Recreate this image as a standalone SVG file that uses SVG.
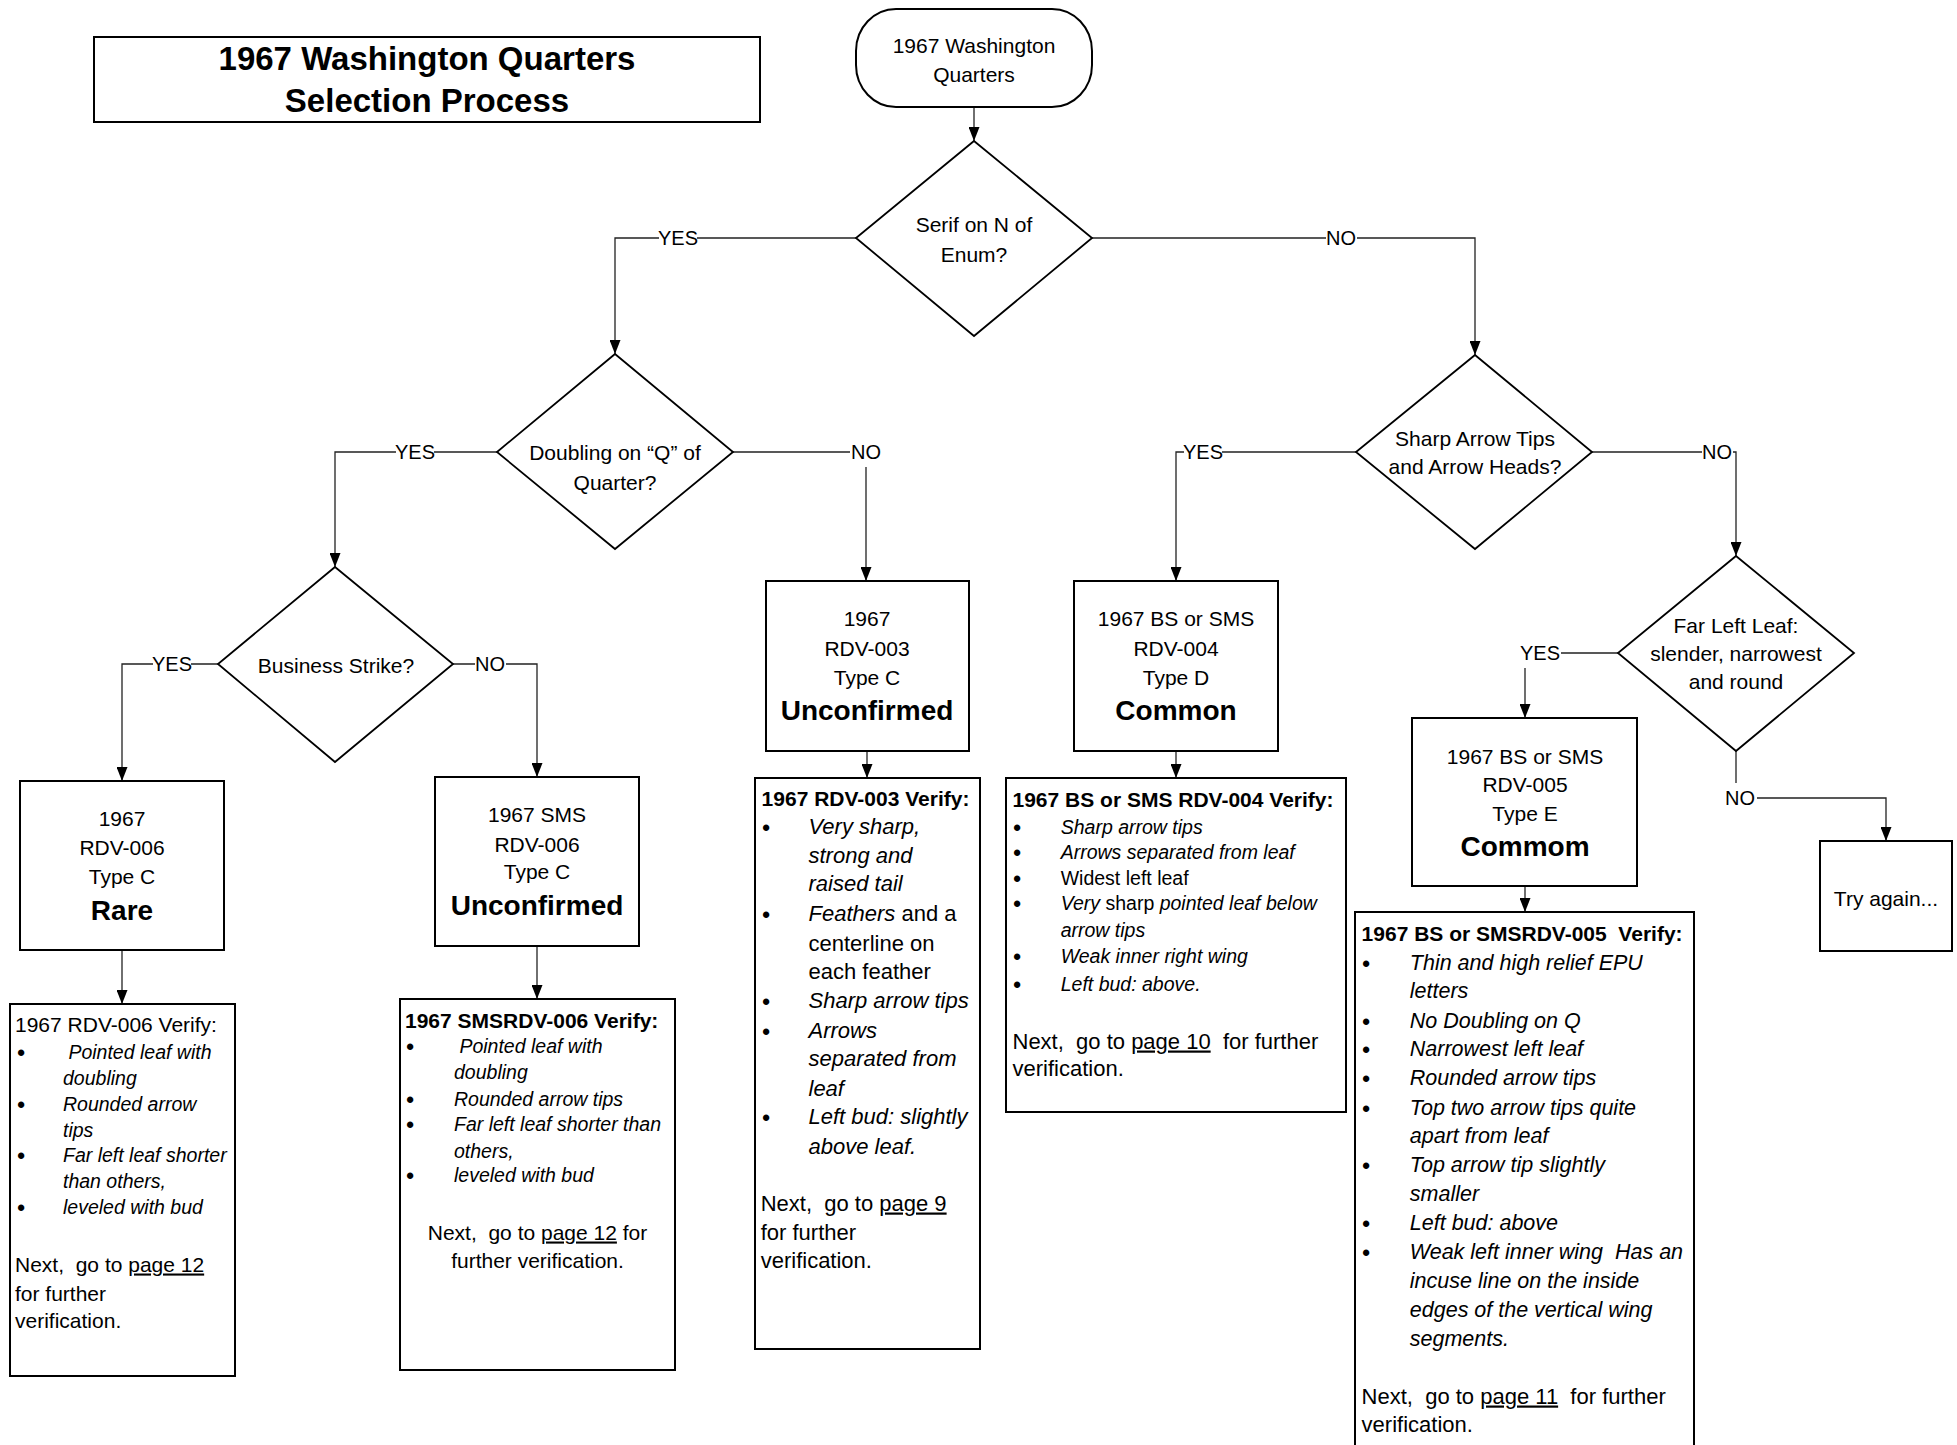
<svg xmlns="http://www.w3.org/2000/svg" width="1957" height="1445" viewBox="0 0 1957 1445">
<defs>
<style>
text{font-family:"Liberation Sans",Arial,sans-serif;font-size:21px;fill:#000;white-space:pre}
.c{text-anchor:middle}
.b{font-weight:bold}
.i{font-style:italic}
.big{font-size:28px;font-weight:bold}
.ttl{font-size:33px;font-weight:bold}
.lbl{font-size:20px}
.s195{font-size:19.5px}
.s22{font-size:22px}
.s215{font-size:21.5px}
.u{text-decoration:underline}
.box{fill:#fff;stroke:#000;stroke-width:2}
.dia{fill:#fff;stroke:#000;stroke-width:1.8}
.con{fill:none;stroke:#222;stroke-width:1.3;marker-end:url(#ah)}
.bg{fill:#fff}
.bul{font-size:22px;font-weight:bold;text-anchor:middle}
</style>
<marker id="ah" markerUnits="userSpaceOnUse" markerWidth="14" markerHeight="11" viewBox="0 0 14 11" refX="14" refY="5.5" orient="auto">
<path d="M0,0 L14,5.5 L0,11 z" fill="#000"/>
</marker>
</defs>
<rect width="1957" height="1445" fill="#fff"/>

<g id="connectors">
<path class="con" d="M974,107 V141"/>
<path class="con" d="M856,238 H615 V354"/>
<path class="con" d="M1092,238 H1475 V355"/>
<path class="con" d="M497,452 H335 V567"/>
<path class="con" d="M733,452 H866 V581"/>
<path class="con" d="M218,664 H122 V781"/>
<path class="con" d="M453,664 H537 V777"/>
<path class="con" d="M1356,452 H1176 V581"/>
<path class="con" d="M1592,452 H1736 V556"/>
<path class="con" d="M1618,653 H1525 V718"/>
<path class="con" d="M1736,751 V798 H1886 V841"/>
<path class="con" d="M122,950 V1004"/>
<path class="con" d="M537,946 V999"/>
<path class="con" d="M867,751 V778"/>
<path class="con" d="M1176,751 V778"/>
<path class="con" d="M1525,886 V912"/>
<rect class="bg" x="659" y="228" width="38" height="20"/>
<text class="lbl c" x="678" y="245">YES</text>
<rect class="bg" x="1326" y="228" width="31" height="20"/>
<text class="lbl c" x="1341" y="245">NO</text>
<rect class="bg" x="396" y="442" width="38" height="20"/>
<text class="lbl c" x="415" y="459">YES</text>
<rect class="bg" x="850" y="441" width="32" height="26"/>
<text class="lbl c" x="866" y="459">NO</text>
<rect class="bg" x="153" y="654" width="38" height="20"/>
<text class="lbl c" x="172" y="671">YES</text>
<rect class="bg" x="475" y="654" width="31" height="20"/>
<text class="lbl c" x="490" y="671">NO</text>
<rect class="bg" x="1184" y="442" width="38" height="20"/>
<text class="lbl c" x="1203" y="459">YES</text>
<rect class="bg" x="1702" y="442" width="31" height="20"/>
<text class="lbl c" x="1717" y="459">NO</text>
<rect class="bg" x="1519" y="641" width="42" height="27"/>
<text class="lbl c" x="1540" y="660">YES</text>
<rect class="bg" x="1723" y="783" width="34" height="28"/>
<text class="lbl c" x="1740" y="805">NO</text>
</g>

<g id="title">
<rect class="box" x="94" y="37" width="666" height="85"/>
<text class="ttl c" x="427" y="70">1967 Washington Quarters</text>
<text class="ttl c" x="427" y="112">Selection Process</text>
</g>

<g id="start">
<rect class="box" x="856" y="9" width="236" height="98" rx="40" ry="42"/>
<text class="c" x="974" y="53">1967 Washington</text>
<text class="c" x="974" y="81.5">Quarters</text>
</g>

<g id="q-serif">
<polygon class="dia" points="974,141 1092,238 974,336 856,238"/>
<text class="c" x="974" y="232">Serif on N of</text>
<text class="c" x="974" y="262">Enum?</text>
</g>

<g id="q-doubling">
<polygon class="dia" points="615,354 733,452 615,549 497,452"/>
<text class="c" x="615" y="460">Doubling on “Q” of</text>
<text class="c" x="615" y="490">Quarter?</text>
</g>

<g id="q-business">
<polygon class="dia" points="335,567 453,664 335,762 218,664"/>
<text class="c" x="336" y="673">Business Strike?</text>
</g>

<g id="q-sharp">
<polygon class="dia" points="1475,355 1592,452 1475,549 1356,452"/>
<text class="c" x="1475" y="446">Sharp Arrow Tips</text>
<text class="c" x="1475" y="474">and Arrow Heads?</text>
</g>

<g id="q-farleft">
<polygon class="dia" points="1736,556 1854,653 1736,751 1618,653"/>
<text class="c" x="1736" y="633">Far Left Leaf:</text>
<text class="c" x="1736" y="661">slender, narrowest</text>
<text class="c" x="1736" y="689">and round</text>
</g>

<g id="rdv006">
<rect class="box" x="20" y="781" width="204" height="169"/>
<text class="c" x="122" y="825.5">1967</text>
<text class="c" x="122" y="854.5">RDV-006</text>
<text class="c" x="122" y="883.5">Type C</text>
<text class="big c" x="122" y="920">Rare</text>
</g>

<g id="sms-rdv006">
<rect class="box" x="435" y="777" width="204" height="169"/>
<text class="c" x="537" y="821.5">1967 SMS</text>
<text class="c" x="537" y="851.5">RDV-006</text>
<text class="c" x="537" y="878.5">Type C</text>
<text class="big c" x="537" y="915">Unconfirmed</text>
</g>

<g id="rdv003">
<rect class="box" x="766" y="581" width="203" height="170"/>
<text class="c" x="867" y="625.5">1967</text>
<text class="c" x="867" y="655.5">RDV-003</text>
<text class="c" x="867" y="684.5">Type C</text>
<text class="big c" x="867" y="720">Unconfirmed</text>
</g>

<g id="rdv004">
<rect class="box" x="1074" y="581" width="204" height="170"/>
<text class="c" x="1176" y="625.5">1967 BS or SMS</text>
<text class="c" x="1176" y="655.5">RDV-004</text>
<text class="c" x="1176" y="684.5">Type D</text>
<text class="big c" x="1176" y="720">Common</text>
</g>

<g id="rdv005">
<rect class="box" x="1412" y="718" width="225" height="168"/>
<text class="c" x="1525" y="763.5">1967 BS or SMS</text>
<text class="c" x="1525" y="791.5">RDV-005</text>
<text class="c" x="1525" y="820.5">Type E</text>
<text class="big c" x="1525" y="856">Commom</text>
</g>

<g id="try-again">
<rect class="box" x="1820" y="841" width="132" height="110"/>
<text class="c" x="1886" y="905.5">Try again...</text>
</g>

<g id="verify-rdv006">
<rect class="box" x="10" y="1004" width="225" height="372"/>
<text x="15" y="1032">1967 RDV-006 Verify:</text>
<text class="bul" x="21" y="1060">•</text>
<text class="i s195" x="63" y="1059"> Pointed leaf with</text>
<text class="i s195" x="63" y="1084.6">doubling</text>
<text class="bul" x="21" y="1112">•</text>
<text class="i s195" x="63" y="1111">Rounded arrow</text>
<text class="i s195" x="63" y="1137">tips</text>
<text class="bul" x="21" y="1163">•</text>
<text class="i s195" x="63" y="1162">Far left leaf shorter</text>
<text class="i s195" x="63" y="1188">than others,</text>
<text class="bul" x="21" y="1215">•</text>
<text class="i s195" x="63" y="1214">leveled with bud</text>
<text x="15" y="1271.5">Next,  go to <tspan class="u">page 12</tspan></text>
<text x="15" y="1300.5">for further</text>
<text x="15" y="1327.5">verification.</text>
</g>

<g id="verify-sms-rdv006">
<rect class="box" x="400" y="999" width="275" height="371"/>
<text class="b" x="405" y="1027.5">1967 SMSRDV-006 Verify:</text>
<text class="bul" x="410" y="1054">•</text>
<text class="i s195" x="454" y="1053"> Pointed leaf with</text>
<text class="i s195" x="454" y="1079">doubling</text>
<text class="bul" x="410" y="1107">•</text>
<text class="i s195" x="454" y="1106">Rounded arrow tips</text>
<text class="bul" x="410" y="1132">•</text>
<text class="i s195" x="454" y="1131">Far left leaf shorter than</text>
<text class="i s195" x="454" y="1157.6">others,</text>
<text class="bul" x="410" y="1183">•</text>
<text class="i s195" x="454" y="1182">leveled with bud</text>
<text class="c" x="537.5" y="1239.5">Next,  go to <tspan class="u">page 12</tspan> for</text>
<text class="c" x="537.5" y="1267.5">further verification.</text>
</g>

<g id="verify-rdv003">
<rect class="box" x="755" y="778" width="225" height="571"/>
<text class="b" x="761.6" y="805.5">1967 RDV-003 Verify:</text>
<text class="bul" x="766" y="835">•</text>
<text class="i s22" x="808.5" y="834">Very sharp,</text>
<text class="i s22" x="808.5" y="863">strong and</text>
<text class="i s22" x="808.5" y="891">raised tail</text>
<text class="bul" x="766" y="922">•</text>
<text class="s22" x="808.5" y="921"><tspan class="i">Feathers</tspan> and a</text>
<text class="s22" x="808.5" y="950.5">centerline on</text>
<text class="s22" x="808.5" y="978.5">each feather</text>
<text class="bul" x="766" y="1008.5">•</text>
<text class="i s22" x="808.5" y="1007.5">Sharp arrow tips</text>
<text class="bul" x="766" y="1038.5">•</text>
<text class="i s22" x="808.5" y="1037.5">Arrows</text>
<text class="i s22" x="808.5" y="1065.5">separated from</text>
<text class="i s22" x="808.5" y="1095.5">leaf</text>
<text class="bul" x="766" y="1124.5">•</text>
<text class="i s22" x="808.5" y="1123.5">Left bud: slightly</text>
<text class="i s22" x="808.5" y="1153.5">above leaf.</text>
<text class="s22" x="760.7" y="1210.5">Next,  go to <tspan class="u">page 9</tspan></text>
<text class="s22" x="760.7" y="1239.5">for further</text>
<text class="s22" x="760.7" y="1267.5">verification.</text>
</g>

<g id="verify-rdv004">
<rect class="box" x="1006" y="778" width="340" height="334"/>
<text class="b" x="1012.5" y="806.5">1967 BS or SMS RDV-004 Verify:</text>
<text class="bul" x="1017" y="834.5">•</text>
<text class="i s195" x="1060.7" y="833.5">Sharp arrow tips</text>
<text class="bul" x="1017" y="860">•</text>
<text class="i s195" x="1060.7" y="859">Arrows separated from leaf</text>
<text class="bul" x="1017" y="885.5">•</text>
<text class="s195" x="1060.7" y="884.5">Widest left leaf</text>
<text class="bul" x="1017" y="911">•</text>
<text class="s195" x="1060.7" y="910"><tspan class="i">Very </tspan>sharp<tspan class="i"> pointed leaf below</tspan></text>
<text class="i s195" x="1060.7" y="937">arrow tips</text>
<text class="bul" x="1017" y="963.5">•</text>
<text class="i s195" x="1060.7" y="962.5">Weak inner right wing</text>
<text class="bul" x="1017" y="991.7">•</text>
<text class="i s195" x="1060.7" y="990.7">Left bud: above.</text>
<text class="s22" x="1012.5" y="1048.5">Next,  go to <tspan class="u">page 10</tspan>  for further</text>
<text class="s22" x="1012.5" y="1076">verification.</text>
</g>

<g id="verify-rdv005">
<rect class="box" x="1355" y="912" width="339" height="540"/>
<text class="b" x="1361.6" y="940.5">1967 BS or SMSRDV-005  Verify:</text>
<text class="bul" x="1366" y="970.5">•</text>
<text class="i s215" x="1409.8" y="969.5">Thin and high relief EPU</text>
<text class="i s215" x="1409.8" y="998">letters</text>
<text class="bul" x="1366" y="1028.5">•</text>
<text class="i s215" x="1409.8" y="1027.5">No Doubling on Q</text>
<text class="bul" x="1366" y="1056.5">•</text>
<text class="i s215" x="1409.8" y="1055.5">Narrowest left leaf</text>
<text class="bul" x="1366" y="1086">•</text>
<text class="i s215" x="1409.8" y="1085">Rounded arrow tips</text>
<text class="bul" x="1366" y="1115.5">•</text>
<text class="i s215" x="1409.8" y="1114.5">Top two arrow tips quite</text>
<text class="i s215" x="1409.8" y="1142.5">apart from leaf</text>
<text class="bul" x="1366" y="1173">•</text>
<text class="i s215" x="1409.8" y="1172">Top arrow tip slightly</text>
<text class="i s215" x="1409.8" y="1201">smaller</text>
<text class="bul" x="1366" y="1230.5">•</text>
<text class="i s215" x="1409.8" y="1229.5">Left bud: above</text>
<text class="bul" x="1366" y="1259.5">•</text>
<text class="i s215" x="1409.8" y="1258.5">Weak left inner wing  Has an</text>
<text class="i s215" x="1409.8" y="1287.5">incuse line on the inside</text>
<text class="i s215" x="1409.8" y="1316.5">edges of the vertical wing</text>
<text class="i s215" x="1409.8" y="1345.5">segments.</text>
<text class="s22" x="1361.6" y="1403.5">Next,  go to <tspan class="u">page 11</tspan>  for further</text>
<text class="s22" x="1361.6" y="1431.5">verification.</text>
</g>
</svg>
